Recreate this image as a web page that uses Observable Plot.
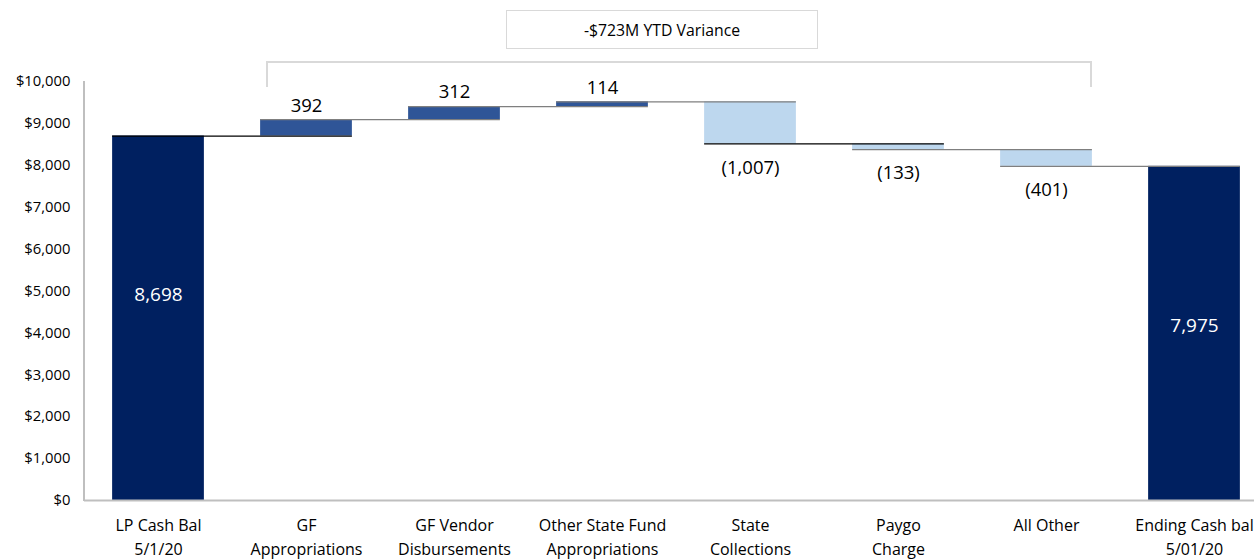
<!DOCTYPE html>
<html>
<head>
<meta charset="utf-8">
<script src="https://cdn.jsdelivr.net/npm/d3@7"></script>
<script src="https://cdn.jsdelivr.net/npm/@observablehq/plot@0.6"></script>
<style>
  html, body { margin: 0; padding: 0; background: #fff; overflow: hidden; }
  #wrap { position: relative; width: 1254px; height: 559px; font-family: "Open Sans", "Noto Sans", sans-serif; }
  #box { position: absolute; left: 506px; top: 10px; width: 310px; height: 37px; border: 1.5px solid #d9d9d9;
         display: flex; align-items: center; justify-content: center; font-size: 15.8px; color: #000; }
  #bracket { position: absolute; left: 266px; top: 61px; width: 822px; height: 24px;
             border-top: 2px solid #d9d9d9; border-left: 2px solid #d9d9d9; border-right: 2px solid #d9d9d9; }
  #chart { position: absolute; left: 0; top: 0; }
</style>
</head>
<body>
<div id="wrap">
  <div id="bracket"></div>
  <div id="box"></div>
  <div id="chart"></div>
</div>
<script>
const categories = ["LP Cash Bal\n5/1/20", "GF\nAppropriations", "GF Vendor\nDisbursements", "Other State Fund\nAppropriations", "State\nCollections", "Paygo\nCharge", "All Other", "Ending Cash bal\n5/01/20"];
const values = [8698, 392, 312, 114, -1007, -133, -401, 7975];
const kinds = ["total", "increase", "increase", "increase", "decrease", "decrease", "decrease", "total"];
const yTicks = [0, 1000, 2000, 3000, 4000, 5000, 6000, 7000, 8000, 9000, 10000];
const annotationText = "-$723M YTD Variance";

document.getElementById("box").textContent = annotationText;

// build waterfall table
let run = 0;
const rows = categories.map((c, i) => {
  let start, end;
  if (kinds[i] === "total") { start = 0; end = values[i]; run = values[i]; }
  else { start = run; end = run + values[i]; run = end; }
  return {i, cat: c, value: values[i], kind: kinds[i], start, end};
});
const connectors = rows.slice(0, -1).map(r => ({i: r.i, level: r.end}));

const fmtVal = v => v < 0 ? "(" + d3.format(",")(-v) + ")" : d3.format(",")(v);
const colors = {total: "#002060", increase: "#2F5597", decrease: "#BDD7EE"};
const hw = 0.31;
const font = "'Open Sans', 'Noto Sans', sans-serif";

const chart = Plot.plot({
  width: 1254,
  height: 559,
  marginLeft: 84,
  marginRight: -14,
  marginTop: 81,
  marginBottom: 59,
  style: {fontFamily: font, background: "transparent", overflow: "visible"},
  x: {type: "linear", domain: [-0.5, 7.5]},
  y: {domain: [0, 10000]},
  marks: [
    Plot.rectY(rows, {x1: d => d.i - hw, x2: d => d.i + hw, y1: "start", y2: "end", fill: d => colors[d.kind]}),
    Plot.ruleY(connectors, {x1: d => d.i - hw, x2: d => d.i + 1 + hw, y: "level",
      stroke: d => (d.i === 0 || d.i === 4) ? "#000" : "#7f7f7f", strokeWidth: 1.3}),
    Plot.ruleY([0], {stroke: "#bfbfbf", strokeWidth: 2}),
    Plot.axisY({ticks: yTicks, tickFormat: d => "$" + d3.format(",")(d), tickSize: 0, tickPadding: 14, fontSize: 14.8, label: null, color: "#000"}),
    Plot.axisX({ticks: d3.range(categories.length), tickFormat: i => categories[i], tickSize: 0, tickPadding: 13, fontSize: 16, lineHeight: 1.5, label: null, color: "#000"}),
    Plot.text(rows.filter(d => d.kind === "increase"), {x: "i", y: "end", text: d => fmtVal(d.value), dy: -14, fontSize: 18.5, fill: "#000"}),
    Plot.text(rows.filter(d => d.kind === "decrease"), {x: "i", y: "end", text: d => fmtVal(d.value), dy: 24, fontSize: 18.5, fill: "#000"}),
    Plot.text(rows.filter(d => d.i === 0), {x: "i", y: d => d.end / 2, text: d => fmtVal(d.value), dy: -23, fontSize: 19, fill: "#fff"}),
    Plot.text(rows.filter(d => d.i === 7), {x: "i", y: d => d.end / 2, text: d => fmtVal(d.value), dy: -8, fontSize: 19, fill: "#fff"})
  ]
});
document.getElementById("chart").appendChild(chart);

// left axis line
const line = document.createElement("div");
line.style.cssText = "position:absolute;left:83px;top:81px;width:2px;height:420px;background:#bfbfbf;";
document.getElementById("wrap").appendChild(line);
</script>
</body>
</html>
